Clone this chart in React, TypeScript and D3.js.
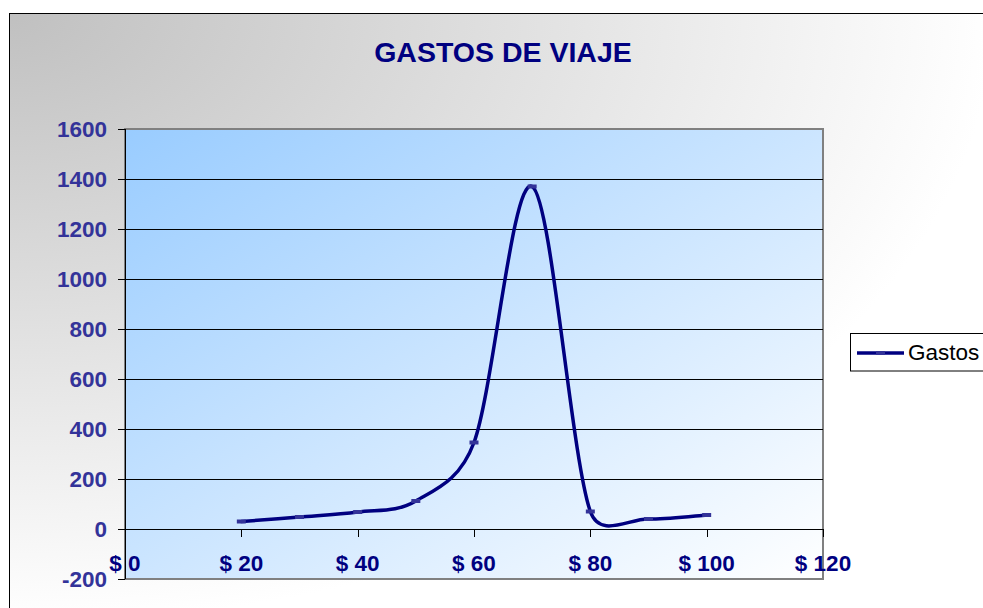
import React from "react";
import * as d3 from "d3";

const xValues = [20, 30, 40, 50, 60, 70, 80, 90, 100];
const gastos = [30, 48, 68, 112, 346, 1370, 70, 40, 56];
const yTicks = [-200, 0, 200, 400, 600, 800, 1000, 1200, 1400, 1600];
const xTicks = [0, 20, 40, 60, 80, 100, 120];
const seriesName = "Gastos";
const title = "GASTOS DE VIAJE";

const W = 983;
const H = 608;
const FONT = "'Liberation Sans', Arial, sans-serif";

// Spreadsheet-style smoothing: Bezier segments with tangents (P[i+1]-P[i-1])/6,
// each control offset capped at half the segment length.
function smoothPath(pts: [number, number][]): string {
  const p = d3.path();
  const n = pts.length;
  if (!n) return "";
  p.moveTo(pts[0][0], pts[0][1]);
  const tan = (i: number): [number, number] => {
    const a = pts[Math.max(0, i - 1)];
    const b = pts[Math.min(n - 1, i + 1)];
    return [(b[0] - a[0]) / 6, (b[1] - a[1]) / 6];
  };
  const cap = (v: [number, number], maxLen: number): [number, number] => {
    const l = Math.hypot(v[0], v[1]);
    if (l > maxLen && l > 0) return [(v[0] * maxLen) / l, (v[1] * maxLen) / l];
    return v;
  };
  for (let i = 0; i < n - 1; i++) {
    const a = pts[i];
    const b = pts[i + 1];
    const half = Math.hypot(b[0] - a[0], b[1] - a[1]) / 2;
    const t1 = cap(tan(i), half);
    const t2 = cap(tan(i + 1), half);
    p.bezierCurveTo(a[0] + t1[0], a[1] + t1[1], b[0] - t2[0], b[1] - t2[1], b[0], b[1]);
  }
  return p.toString();
}

export default function App() {
  const x = d3.scaleLinear().domain([0, 120]).range([125, 823]);
  const y = d3.scaleLinear().domain([-200, 1600]).range([579, 129]);
  const pts: [number, number][] = xValues.map((v, i) => [x(v), y(gastos[i])]);
  const line = smoothPath(pts);

  return (
    <svg
      width={W}
      height={H}
      style={{ position: "absolute", left: 0, top: 0, background: "#fff" }}
      xmlns="http://www.w3.org/2000/svg"
    >
      <defs>
        <radialGradient
          id="chartBg"
          gradientUnits="userSpaceOnUse"
          cx={0}
          cy={0}
          r={1}
          gradientTransform="translate(9,13) scale(985,610)"
        >
          <stop offset="0" stopColor="#c0c0c0" />
          <stop offset="1" stopColor="#ffffff" />
        </radialGradient>
        <linearGradient id="plotBg" x1="0" y1="0" x2="1" y2="1">
          <stop offset="0" stopColor="#99ccff" />
          <stop offset="1" stopColor="#ffffff" />
        </linearGradient>
      </defs>
      <rect x={9.5} y={13.5} width={1100} height={700} fill="url(#chartBg)" stroke="#000" strokeWidth={1} />
      <text x={503} y={62} textAnchor="middle" fontFamily={FONT} fontWeight="bold" fontSize={28.5} fill="#000080">
        {title}
      </text>
      {/* plot area */}
      <rect x={125} y={129} width={698} height={450} fill="url(#plotBg)" stroke="#808080" strokeWidth={2} />
      {yTicks
        .filter((t) => t > -200 && t < 1600 && t !== 0)
        .map((t) => (
          <line key={"g" + t} x1={125} x2={823} y1={Math.round(y(t)) + 0.5} y2={Math.round(y(t)) + 0.5} stroke="#000" strokeWidth={1} />
        ))}
      {/* y axis */}
      <line x1={125.5} x2={125.5} y1={129} y2={579} stroke="#000" strokeWidth={1} />
      {yTicks.map((t) => (
        <g key={"y" + t}>
          <line x1={118} x2={125} y1={Math.round(y(t)) + 0.5} y2={Math.round(y(t)) + 0.5} stroke="#000" strokeWidth={1} />
          <text x={107} y={y(t) + 8} textAnchor="end" fontFamily={FONT} fontWeight="bold" fontSize={22.5} fill="#333399">
            {t}
          </text>
        </g>
      ))}
      {/* x axis at 0 */}
      <line x1={125} x2={823} y1={Math.round(y(0)) + 0.5} y2={Math.round(y(0)) + 0.5} stroke="#000" strokeWidth={1} />
      {xTicks.map((t) => (
        <g key={"x" + t}>
          <line x1={Math.round(x(t)) + 0.5} x2={Math.round(x(t)) + 0.5} y1={y(0)} y2={y(0) + 8} stroke="#000" strokeWidth={1} />
          <text x={x(t)} y={571} textAnchor="middle" fontFamily={FONT} fontWeight="bold" fontSize={22.5} fill="#000080">
            {"$ " + t}
          </text>
        </g>
      ))}
      {/* series */}
      <path d={line} fill="none" stroke="#000080" strokeWidth={3.5} strokeLinejoin="round" strokeLinecap="round" />
      {pts.map(([px, py], i) => (
        <rect key={"m" + i} x={px - 4.5} y={py - 2} width={9} height={4} fill="#333399" />
      ))}
      {/* legend */}
      <rect x={850.5} y={333.5} width={200} height={37.5} fill="#fff" stroke="#000" strokeWidth={1} />
      <line x1={857} x2={904} y1={353} y2={353} stroke="#000080" strokeWidth={3.5} />
      <rect x={876} y={351} width={9} height={4} fill="#333399" />
      <text x={908} y={360} fontFamily={FONT} fontSize={22.5} fill="#000">
        {seriesName}
      </text>
    </svg>
  );
}
